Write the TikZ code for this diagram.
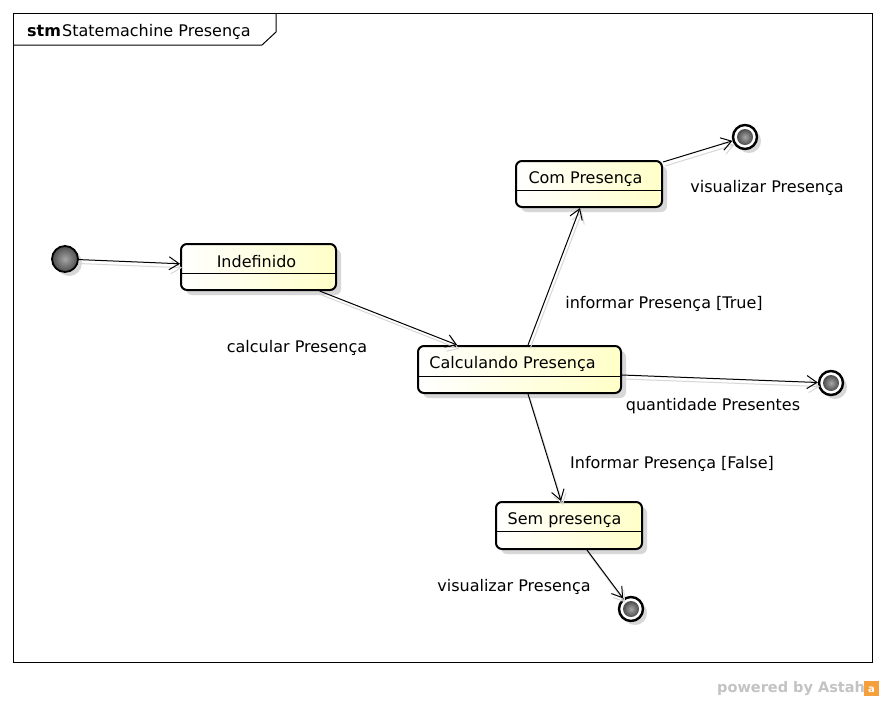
\documentclass[tikz,border=0pt]{standalone}
\usepackage{fontspec}
\setmainfont{DejaVu Sans}
\usetikzlibrary{arrows.meta,shadows}
\definecolor{statey}{RGB}{255,255,200}
\definecolor{shadowc}{RGB}{215,215,215}
\definecolor{astahgray}{RGB}{195,195,195}
\definecolor{astahor}{RGB}{245,160,60}
\tikzset{
  statebox/.style={draw=black, line width=2pt, rounded corners=6pt, left color=white, right color=statey,
    inner sep=0pt, drop shadow={shadow xshift=5pt, shadow yshift=-5pt, fill=shadowc, opacity=1}},
  initst/.style={circle, draw=black, line width=1.8pt, minimum size=26pt, inner sep=0pt,
    inner color=gray!70, outer color=black!70,
    drop shadow={shadow xshift=4pt, shadow yshift=-4pt, fill=shadowc, opacity=1}},
  finalst/.style={circle, draw=black, line width=2.4pt, minimum size=24pt, inner sep=0pt, fill=white,
    drop shadow={shadow xshift=4pt, shadow yshift=-4pt, fill=shadowc, opacity=1}},
  tip/.style={-{Straight Barb[length=10pt,width=13pt,line width=1pt]}},
  conn/.style={draw=black, line width=1pt, tip},
  connsh/.style={draw=shadowc, line width=1pt, tip, transform canvas={xshift=2pt,yshift=-4pt}},
  lbl/.style={inner sep=0pt, anchor=center},
}
\newcommand\stmconn[2]{\draw[connsh] #1 -- #2; \draw[conn] #1 -- #2;}
\begin{document}
\begin{tikzpicture}[x=1pt,y=-1pt,font=\fontsize{16}{19}\selectfont]
\useasboundingbox[fill=white] (0,0) rectangle (885,702);
% frame
\draw[line width=1pt] (13,13) rectangle (872,662);
\draw[line width=1pt] (13,45) -- (262,45) -- (276,32) -- (276,13);
\node[anchor=base west, inner sep=0pt] (stm) at (27,36) {\textbf{stm}};
\node[anchor=base west, inner sep=0pt] (title) at (62,36) {Statemachine Presença};
% states
\node[statebox, minimum width=155pt, minimum height=46pt] (ind) at (258.5,267) {};
\draw[line width=1pt] (181,273) -- (336,273);
\node[lbl] (indt) at (256.5,261.5) {Indefinido};

\node[statebox, minimum width=146pt, minimum height=46pt] (com) at (589,184) {};
\draw[line width=1pt] (516,190) -- (662,190);
\node[lbl] (comt) at (585.5,179.5) {Com Presença};

\node[statebox, minimum width=203pt, minimum height=47pt] (calc) at (519.5,369.5) {};
\draw[line width=1pt] (418,376) -- (621,376);
\node[lbl] (calct) at (512.5,363.5) {Calculando Presença};

\node[statebox, minimum width=146pt, minimum height=47pt] (sem) at (569,525.5) {};
\draw[line width=1pt] (496,531) -- (642,531);
\node[lbl] (semt) at (564.5,520.5) {Sem presença};

% pseudo states
\node[initst] (init) at (65,259) {};
\node[finalst] (f1) at (745,137) {};
\shade[inner color=gray!70, outer color=black!70] (f1) circle (8);
\node[finalst] (f2) at (831,383) {};
\shade[inner color=gray!70, outer color=black!70] (f2) circle (8);
\node[finalst] (f3) at (631,609) {};
\shade[inner color=gray!70, outer color=black!70] (f3) circle (8);

% transitions
\stmconn{(init)}{(ind)}
\stmconn{(ind)}{(calc)}
\stmconn{([xshift=8.5pt]calc.north)}{([xshift=-9pt]com.south)}
\stmconn{([yshift=-2pt]com.north east)}{(f1)}
\stmconn{([yshift=-5.5pt]calc.east)}{(f2)}
\stmconn{([xshift=8.5pt]calc.south)}{([xshift=-8pt]sem.north)}
\stmconn{([xshift=18pt]sem.south)}{(f3)}

% labels
\node[lbl] (l1) at (297,347.5) {calcular Presença};
\node[lbl] (l2) at (664,303.5) {informar Presença [True]};
\node[lbl] (l3) at (767,187.5) {visualizar Presença};
\node[lbl] (l4) at (713,406.5) {quantidade Presentes};
\node[lbl] (l5) at (672,463.5) {Informar Presença [False]};
\node[lbl] (l6) at (514,586.5) {visualizar Presença};

% footer
\node[anchor=west, inner sep=0pt, text=astahgray, font=\fontsize{14.5}{16}\selectfont\bfseries] (pw) at (717,689) {powered by Astah};
\fill[astahor] (864,681) rectangle (879,696);
\node[inner sep=0pt, text=white, font=\fontsize{10}{10}\selectfont\bfseries] (logo) at (871.5,690) {a};
\end{tikzpicture}
\end{document}
